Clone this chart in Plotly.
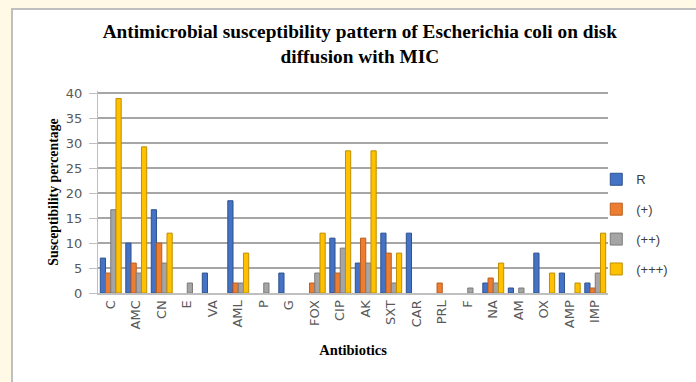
import plotly.graph_objects as go

antibiotics = ["C", "AMC", "CN", "E", "VA", "AML", "P", "G", "FOX", "CIP",
               "AK", "SXT", "CAR", "PRL", "F", "NA", "AM", "OX", "AMP", "IMP"]

r_vals =      [7, 10, 16.7, 0, 4, 18.5, 0, 4, 0, 11, 6, 12, 12, 0, 0, 2, 1, 8, 4, 2]
plus1_vals =  [4, 6, 10, 0, 0, 2, 0, 0, 2, 4, 11, 8, 0, 2, 0, 3, 0, 0, 0, 1]
plus2_vals =  [16.7, 4, 6, 2, 0, 2, 2, 0, 4, 9, 6, 2, 0, 0, 1, 2, 1, 0, 0, 4]
plus3_vals =  [39, 29.3, 12, 0, 0, 8, 0, 0, 12, 28.5, 28.5, 8, 0, 0, 0, 6, 0, 4, 2, 12]

series = [
    ("R", r_vals, "#4472C4", "#2F528F"),
    ("(+)", plus1_vals, "#ED7D31", "#B85E1F"),
    ("(++)", plus2_vals, "#A5A5A5", "#7B7B7B"),
    ("(+++)", plus3_vals, "#FFC000", "#BF9000"),
]

fig = go.Figure()
for name, vals, color, edge in series:
    # zero entries are left blank so no empty bar outline is drawn
    fig.add_trace(go.Bar(
        name=name, x=antibiotics, y=[v if v else None for v in vals],
        legendgroup=name,
        marker=dict(color=color, line=dict(color=edge, width=1)),
    ))

# chart frame on the cream page
fig.add_shape(type="rect", xref="paper", yref="paper",
              x0=-86 / 510, x1=1.3, y0=-0.6, y1=1 + 82 / 202,
              line=dict(color="#BFBFBF", width=2), fillcolor="white", layer="below")

tick_font = dict(family="DejaVu Sans", size=13, color="#595959")

fig.update_layout(
    width=696, height=382,
    margin=dict(l=98, r=88, t=91, b=89),
    paper_bgcolor="#FFF9E6",
    plot_bgcolor="white",
    barmode="group",
    bargap=0.18,
    bargroupgap=0.0,
    title=dict(
        text="Antimicrobial susceptibility pattern of Escherichia coli on disk<br>diffusion with MIC",
        x=0.517, xanchor="center", y=0.90, yanchor="top",
        font=dict(family="Liberation Serif", size=19.3, color="black", weight="bold"),
    ),
    legend=dict(
        x=0.977, xanchor="left", y=0.34, yanchor="middle",
        font=dict(family="Liberation Sans", size=13, color="#404040"),
        tracegroupgap=10, itemwidth=30, bgcolor="rgba(0,0,0,0)",
    ),
    xaxis=dict(
        tickangle=-90,
        tickfont=tick_font,
        showline=True, linecolor="#BFBFBF", linewidth=2,
        title=dict(text="Antibiotics",
                   font=dict(family="Liberation Serif", size=14.5, color="black", weight="bold"),
                   standoff=16),
    ),
    yaxis=dict(
        range=[0, 40.5], dtick=5,
        tickfont=tick_font,
        showgrid=True, gridcolor="#A6A6A6", gridwidth=1.5,
        showline=True, linecolor="#BFBFBF", linewidth=1,
        ticks="outside", ticklen=8, tickcolor="#BFBFBF",
        ticklabelstandoff=4,
        zeroline=False,
        title=dict(text="Susceptibility percentage",
                   font=dict(family="Liberation Serif", size=13.8, color="black", weight="bold"),
                   standoff=4),
    ),
)

fig.write_html("out.html")
